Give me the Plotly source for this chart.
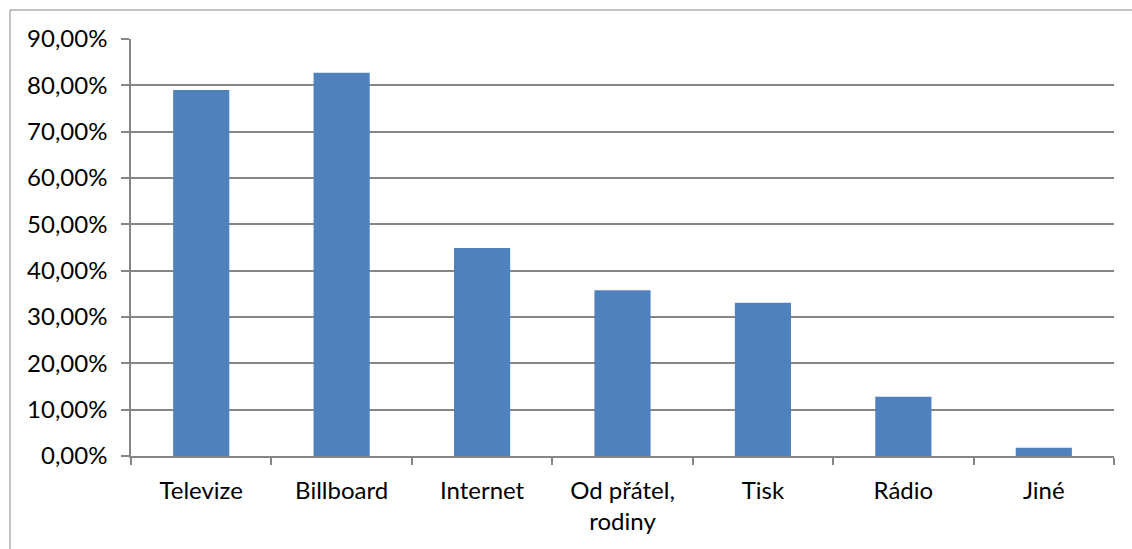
import plotly.graph_objects as go

categories = ["Televize", "Billboard", "Internet", "Od přátel,<br>rodiny", "Tisk", "Rádio", "Jiné"]
values = [0.790, 0.827, 0.449, 0.358, 0.331, 0.128, 0.018]
y_ticks = [0, 0.1, 0.2, 0.3, 0.4, 0.5, 0.6, 0.7, 0.8, 0.9]

W, H = 1132, 549
L, R, T, B = 131, 18, 39, 93
pw, ph = W - L - R, H - T - B

def px_x(p):
    return (p - L) / pw

def px_y(p):
    return (H - B - p) / ph

fig = go.Figure(go.Bar(
    x=categories, y=values,
    marker=dict(color="#4F81BD", line=dict(color="#4F81BD", width=0)),
    width=0.4,
))

grid = "#868686"
fig.update_layout(
    width=W, height=H,
    margin=dict(l=L, r=R, t=T, b=B, pad=0),
    plot_bgcolor="white", paper_bgcolor="white",
    separators=", ",
    font=dict(family="Lato", size=24, color="#000000"),
    showlegend=False,
    xaxis=dict(
        type="category",
        showline=True, linecolor=grid, linewidth=1.5,
        ticks="outside", ticklen=7, tickcolor=grid, tickwidth=1.5,
        tickson="boundaries",
        showgrid=False,
        ticklabelstandoff=12,
    ),
    yaxis=dict(
        range=[0, 0.9],
        tickvals=y_ticks,
        tickformat=".2%",
        showline=True, linecolor=grid, linewidth=1.5,
        ticks="outside", ticklen=8, tickcolor=grid, tickwidth=1.5,
        showgrid=True, gridcolor=grid, gridwidth=1.5,
        zeroline=False,
        ticklabelstandoff=9,
    ),
    shapes=[
        dict(type="path", xref="paper", yref="paper",
             path=f"M {px_x(10)},{px_y(H + 5)} L {px_x(10)},{px_y(10)} L {px_x(W + 5)},{px_y(10)}",
             line=dict(color=grid, width=1)),
    ],
)

fig.write_html("out.html")
